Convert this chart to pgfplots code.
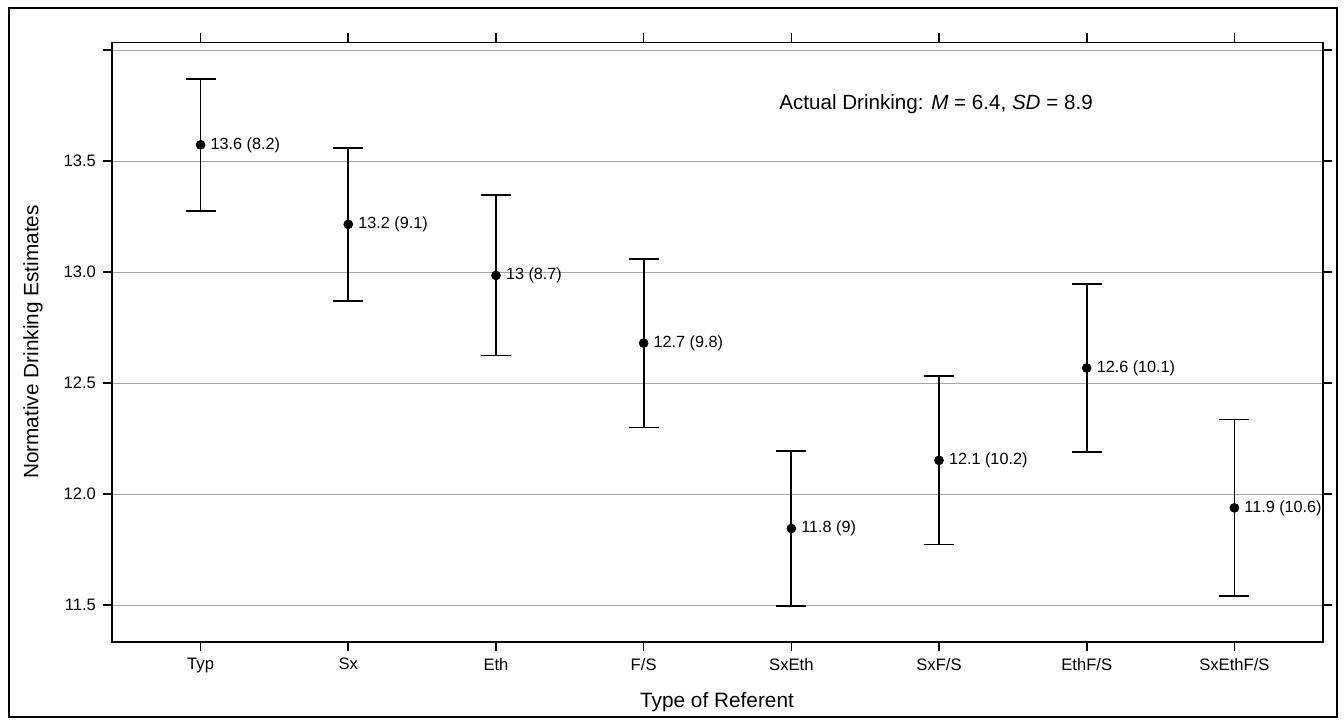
\documentclass[border=0pt]{standalone}
\usepackage{pgfplots}
\pgfplotsset{compat=1.18}
\usepackage{pgfplotstable}
\usepackage{fontspec}
\setmainfont{Liberation Sans}
\pgfplotstableread[col sep=comma]{
x,y,e,lab
1,13.573,0.297,13.6 (8.2)
2,13.215,0.345,13.2 (9.1)
3,12.985,0.361,13 (8.7)
4,12.680,0.380,12.7 (9.8)
5,11.845,0.350,11.8 (9)
6,12.152,0.379,12.1 (10.2)
7,12.568,0.379,12.6 (10.1)
8,11.938,0.398,11.9 (10.6)
}\datatable
\begin{document}
\begin{tikzpicture}[x=0.5pt,y=0.5pt]
\useasboundingbox (0,0) rectangle (1344,722);
\draw[line width=1.3pt] (9,5) rectangle (1337,714);
\begin{axis}[
  at={(56pt,40pt)}, anchor=south west,
  scale only axis, width=605.5pt, height=299.75pt,
  xmin=0.4, xmax=8.6, ymin=11.334, ymax=14.034,
  xtick={1,...,8},
  xticklabels={Typ,Sx,Eth,F/S,SxEth,SxF/S,EthF/S,SxEthF/S},
  ytick={11.5,12,12.5,13,13.5,14},
  yticklabels={11.5,12.0,12.5,13.0,13.5,{}},
  tick align=outside, major tick length=4.5pt,
  xtick pos=both, ytick pos=both,
  xticklabel pos=bottom, yticklabel pos=left,
  ymajorgrids, major grid style={black!35, line width=0.5pt},
  axis line style={line width=0.8pt},
  every tick/.style={black, line width=0.8pt},
  tick label style={font=\fontsize{8.3}{10}\selectfont},
  clip=false,
]
\addplot+[black, only marks, mark=*, mark size=2.2pt,
  mark options={fill=black},
  error bars/.cd, y dir=both, y explicit,
  error bar style={line width=0.85pt, black},
  error mark options={rotate=90, mark size=7.5pt, line width=0.85pt, black}]
  table[x=x, y=y, y error=e] {\datatable};
\addplot[only marks, mark=none,
  nodes near coords, point meta=explicit symbolic,
  nodes near coords style={anchor=west, xshift=1.5pt, font=\fontsize{8.1}{9.6}\selectfont, text=black}]
  table[x=x, y=y, meta=lab] {\datatable};
\node[font=\fontsize{10.3}{12}\selectfont] at (axis cs:5.98,13.757)
  {Actual Drinking: \textit{M} = 6.4, \textit{SD} = 8.9};
\end{axis}
\node[font=\fontsize{10.4}{12}\selectfont] at (717,20) {Type of Referent};
\node[font=\fontsize{10.4}{12}\selectfont, rotate=90] at (33,380) {Normative Drinking Estimates};
\end{tikzpicture}
\end{document}
